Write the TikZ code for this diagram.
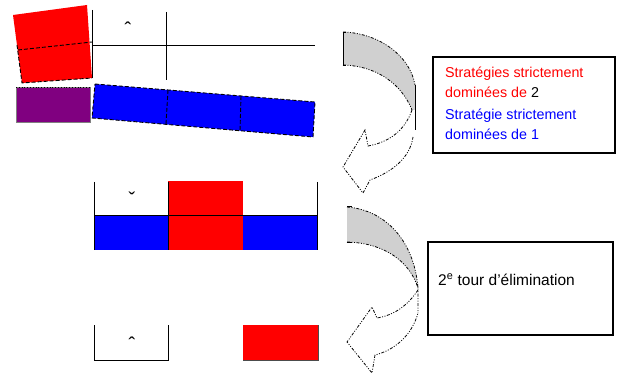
\documentclass[tikz,border=0pt]{standalone}
\usepackage{fontspec}
\setmainfont{Liberation Sans}
\definecolor{purp}{RGB}{128,0,128}
\definecolor{arrgray}{RGB}{208,208,208}
\begin{document}
\begin{tikzpicture}[x=1pt,y=-1pt,
  cell/.style={line width=0.9pt},
  dsh/.style={dash pattern=on 4pt off 2pt, line width=0.9pt},
  arr/.style={dash pattern=on 3pt off 1.5pt on 1pt off 1.5pt on 1pt off 1.5pt, line width=0.8pt},
  boxst/.style={draw, line width=1.2pt, inner sep=0pt, outer sep=0pt, anchor=north west},
  lbl/.style={font=\fontsize{14.3}{16}\selectfont, anchor=base west, inner sep=0pt},
  crt/.style={font=\fontsize{20}{20}\selectfont, inner sep=0pt}]
\useasboundingbox (0,0) rectangle (619,377);

% ---- top row
\fill[red] (13,15) -- (87,5) -- (92,78) -- (22,83) -- cycle;
\draw[dsh] (17,45) -- (22,83) -- (92,78);
\draw[dsh] (18,50) -- (92,42);
\fill[purp] (16,87) rectangle (90,122);
\draw[line width=0.4pt, gray] (16,87) rectangle (90,122);
\draw[dotted, line width=0.8pt] (16,87) -- (90,87);
\fill[blue] (95,84) -- (315,102) -- (313,137) -- (92,118) -- cycle;
\draw[dsh] (95,84) -- (315,102) -- (313,137) -- (92,118) -- cycle;
\draw[dsh] (168,90) -- (166,124);
\draw[dsh] (241,96) -- (240,131);
\draw[cell] (92,10) -- (92,78);
\draw[cell] (166,12) -- (166,80);
\draw[cell] (92,45) -- (315,45);
\node[crt] (c1) at (128,29) {ˆ};

% ---- middle row
\fill[red] (168,181) rectangle (243,250);
\fill[blue] (94,215) rectangle (168,250);
\fill[blue] (243,215) rectangle (317,250);
\draw[cell] (94,182) -- (94,250);
\draw[cell] (168,182) -- (168,250);
\draw[cell] (317,182) -- (317,250);
\draw[cell] (94,215) -- (317,215);
\node[crt] (c2) at (132,199) {ˇ};

% ---- bottom row
\draw[cell] (94,325) -- (94,360) -- (168,360) -- (168,325);
\fill[red] (243,325) rectangle (318,360);
\draw[line width=0.8pt, black!70] (318,325) -- (318,360) -- (243,360);
\node[crt] (c3) at (132,344) {ˆ};

% ---- curved arrow 1
\fill[arrgray] (343,32) .. controls (378,33) and (410,55) .. (415,85) -- (415,110) -- (412,110)
  .. controls (402,85) and (378,66) .. (343,65) -- cycle;
\draw[arr] (343,32) .. controls (378,33) and (410,55) .. (415,85);
\draw[arr] (343,65) .. controls (378,66) and (402,85) .. (412,110);
\draw[cell] (346,32) -- (343,32) -- (343,65) -- (346,65);
\draw[cell] (415,85) -- (415,130);
\draw[arr] (412,110) .. controls (405,130) and (390,142) .. (368,146) -- (365,130) -- (343,167)
  -- (363,193) -- (370,180) .. controls (392,172) and (410,158) .. (413,137);

% ---- curved arrow 2
\fill[arrgray] (347,207) .. controls (385,210) and (414,240) .. (418,288)
  .. controls (410,262) and (385,243) .. (347,242) -- cycle;
\draw[arr] (347,207) .. controls (385,210) and (414,240) .. (418,288) -- (418,313);
\draw[arr] (347,242) .. controls (385,243) and (410,262) .. (418,288);
\draw[line width=1pt] (347,207) -- (352,207);
\draw[line width=1pt] (347,242) -- (352,242);
\draw[arr] (418,290) .. controls (408,305) and (395,315) .. (377,318) -- (372,307) -- (347,342)
  -- (372,373) -- (375,355) .. controls (395,350) and (412,335) .. (418,313);

% ---- text boxes
\node[boxst, minimum width=182pt, minimum height=96pt] (b1) at (433,57) {};
\node[lbl, text=red] (t1) at (445,78) {Stratégies strictement};
\node[lbl, text=red] (t2) at (445,98) {dominées de \textcolor{black}{2}};
\node[lbl, text=blue] (t3) at (445,120) {Stratégie strictement};
\node[lbl, text=blue] (t4) at (445,140) {dominées de 1};

\node[boxst, minimum width=185pt, minimum height=93pt] (b2) at (428,242) {};
\node[lbl, font=\fontsize{15.5}{16}\selectfont] (t5) at (438,285) {2\textsuperscript{e} tour d'élimination};
\end{tikzpicture}
\end{document}
